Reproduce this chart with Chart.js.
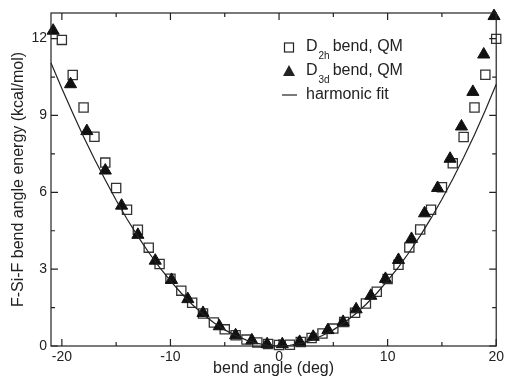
<!DOCTYPE html>
<html>
<head>
<meta charset="utf-8">
<script src="https://cdn.jsdelivr.net/npm/chart.js@4/dist/chart.umd.min.js"></script>
<style>
  html, body { margin: 0; padding: 0; background: #fff; }
</style>
</head>
<body>
<canvas id="bendChart" width="507" height="378"></canvas>
<script>
// D2h bend, QM (open squares)
const d2hAngle = [-20, -19, -18, -17, -16, -15, -14, -13, -12, -11, -10, -9, -8, -7, -6, -5, -4, -3, -2, -1, 0,
                  1, 2, 3, 4, 5, 6, 7, 8, 9, 10, 11, 12, 13, 14, 15, 16, 17, 18, 19, 20];
const d2hEnergy = [11.95, 10.58, 9.31, 8.17, 7.16, 6.17, 5.32, 4.54, 3.84, 3.2, 2.63, 2.16, 1.69, 1.27, 0.92, 0.65, 0.42, 0.25, 0.14, 0.08, 0.04,
                   0.05, 0.16, 0.31, 0.49, 0.68, 0.94, 1.3, 1.66, 2.12, 2.62, 3.17, 3.85, 4.55, 5.32, 6.2, 7.13, 8.16, 9.31, 10.59, 11.99];

// D3d bend, QM (filled triangles)
const d3dAngle = [-20.8, -19.2, -17.7, -16.0, -14.5, -13.0, -11.4, -9.9, -8.4, -7.0, -5.5, -4.0, -2.5, -1.1, 0.3,
                  1.9, 3.15, 4.5, 5.9, 7.1, 8.45, 9.8, 11.0, 12.2, 13.4, 14.6, 15.75, 16.8, 17.85, 18.85, 19.8];
const d3dEnergy = [12.31, 10.22, 8.39, 6.85, 5.48, 4.34, 3.33, 2.58, 1.83, 1.29, 0.77, 0.42, 0.22, 0.07, 0.07,
                   0.16, 0.36, 0.62, 0.94, 1.43, 1.96, 2.62, 3.36, 4.18, 5.18, 6.17, 7.31, 8.57, 9.92, 11.38, 12.88];

// harmonic fit
const fitAngle = [-21, -20, -19, -18, -17, -16, -15, -14, -13, -12, -11, -10, -9, -8, -7, -6, -5, -4, -3, -2, -1, 0,
                  1, 2, 3, 4, 5, 6, 7, 8, 9, 10, 11, 12, 13, 14, 15, 16, 17, 18, 19, 20];
const fitEnergy = [11.05, 10.05, 9.1, 8.17, 7.3, 6.48, 5.69, 4.96, 4.28, 3.65, 3.07, 2.54, 2.06, 1.62, 1.24, 0.91, 0.63, 0.41, 0.23, 0.1, 0.03, 0,
                   0.03, 0.1, 0.23, 0.41, 0.63, 0.91, 1.24, 1.62, 2.06, 2.55, 3.08, 3.67, 4.3, 4.99, 5.73, 6.52, 7.36, 8.25, 9.2, 10.22];

const xTicks = [-20, -10, 0, 10, 20];
const xMinorTicks = [-15, -5, 5, 15];
const yTicks = [0, 3, 6, 9, 12];
const yMinorTicks = [1.5, 4.5, 7.5, 10.5];

const ink = '#222';
const fontFamily = '"Liberation Sans", Arial, sans-serif';

function toPoints(xs, ys) {
    return xs.map((x, i) => ({ x: x, y: ys[i] }));
}

// frame + inward ticks on all four sides
const frameTicks = {
    id: 'frameTicks',
    afterDatasetsDraw(chart) {
        const { ctx, chartArea: a, scales: { x, y } } = chart;
        ctx.save();
        ctx.strokeStyle = ink;
        ctx.lineWidth = 1.2;
        ctx.strokeRect(a.left, a.top, a.right - a.left, a.bottom - a.top);
        ctx.beginPath();
        const xt = (v, len) => {
            const px = x.getPixelForValue(v);
            ctx.moveTo(px, a.bottom); ctx.lineTo(px, a.bottom - len);
            ctx.moveTo(px, a.top); ctx.lineTo(px, a.top + len);
        };
        const yt = (v, len) => {
            const py = y.getPixelForValue(v);
            ctx.moveTo(a.left, py); ctx.lineTo(a.left + len, py);
            ctx.moveTo(a.right, py); ctx.lineTo(a.right - len, py);
        };
        xTicks.forEach(v => xt(v, 7));
        xMinorTicks.forEach(v => xt(v, 4));
        yTicks.forEach(v => yt(v, 7));
        yMinorTicks.forEach(v => yt(v, 4));
        ctx.stroke();
        ctx.restore();
    }
};

// legend with subscripts
const subLegend = {
    id: 'subLegend',
    afterDraw(chart) {
        const ctx = chart.ctx;
        const mx = 289, tx = 306;
        const rows = [
            { y: 47, sub: '2h', kind: 'square' },
            { y: 71, sub: '3d', kind: 'triangle' },
            { y: 95, kind: 'line' }
        ];
        const big = '16px ' + fontFamily, small = '10px ' + fontFamily;
        ctx.save();
        ctx.fillStyle = ink;
        ctx.strokeStyle = ink;
        ctx.textBaseline = 'middle';
        rows.forEach(r => {
            ctx.beginPath();
            if (r.kind === 'square') {
                ctx.lineWidth = 1.2;
                ctx.strokeRect(mx - 4.5, r.y - 4, 9, 9);
            } else if (r.kind === 'triangle') {
                ctx.moveTo(mx, r.y - 6);
                ctx.lineTo(mx + 6, r.y + 5);
                ctx.lineTo(mx - 6, r.y + 5);
                ctx.closePath();
                ctx.fill();
            } else {
                ctx.lineWidth = 1.2;
                ctx.moveTo(282, r.y); ctx.lineTo(297, r.y);
                ctx.stroke();
            }
            ctx.font = big;
            if (r.sub) {
                ctx.fillText('D', tx, r.y);
                let w = ctx.measureText('D').width;
                ctx.font = small;
                ctx.fillText(r.sub, tx + w + 1, r.y + 9);
                w += ctx.measureText(r.sub).width + 4;
                ctx.font = big;
                ctx.fillText('bend, QM', tx + w, r.y);
            } else {
                ctx.fillText('harmonic fit', tx, r.y);
            }
        });
        ctx.restore();
    }
};

const ctx = document.getElementById('bendChart').getContext('2d');
new Chart(ctx, {
    type: 'scatter',
    data: {
        datasets: [
            {
                label: 'harmonic fit',
                type: 'line',
                data: toPoints(fitAngle, fitEnergy),
                borderColor: ink,
                borderWidth: 1.2,
                pointRadius: 0,
                fill: false,
                tension: 0,
                order: 0
            },
            {
                label: 'D3d bend, QM',
                data: toPoints(d3dAngle, d3dEnergy),
                pointStyle: 'triangle',
                pointRadius: 7,
                backgroundColor: '#111',
                borderColor: '#111',
                borderWidth: 1,
                order: 1
            },
            {
                label: 'D2h bend, QM',
                data: toPoints(d2hAngle, d2hEnergy),
                pointStyle: 'rect',
                pointRadius: 6.5,
                backgroundColor: 'rgba(0,0,0,0)',
                borderColor: '#333',
                borderWidth: 1.3,
                order: 2
            }
        ]
    },
    options: {
        responsive: false,
        animation: false,
        devicePixelRatio: 1,
        clip: false,
        layout: { padding: { top: 13, right: 4, left: 0, bottom: 0 } },
        plugins: {
            legend: { display: false },
            tooltip: { enabled: false }
        },
        scales: {
            x: {
                type: 'linear',
                min: -21,
                max: 20,
                afterBuildTicks: s => { s.ticks = xTicks.map(v => ({ value: v })); },
                afterFit: s => { s.height = 32; },
                grid: { display: false, drawTicks: false },
                border: { display: false },
                ticks: {
                    color: ink,
                    padding: 3,
                    font: { family: fontFamily, size: 14 }
                },
                title: {
                    display: true,
                    text: 'bend angle (deg)',
                    color: ink,
                    padding: { top: 0, bottom: 0 },
                    font: { family: fontFamily, size: 16 }
                }
            },
            y: {
                type: 'linear',
                min: 0,
                max: 13,
                afterBuildTicks: s => { s.ticks = yTicks.map(v => ({ value: v })); },
                afterFit: s => { s.width = 51; },
                grid: { display: false, drawTicks: false },
                border: { display: false },
                ticks: {
                    color: ink,
                    padding: 4,
                    font: { family: fontFamily, size: 14 }
                },
                title: {
                    display: true,
                    text: 'F-Si-F bend angle energy (kcal/mol)',
                    color: ink,
                    padding: { top: 9, bottom: 0 },
                    font: { family: fontFamily, size: 16 }
                }
            }
        }
    },
    plugins: [frameTicks, subLegend]
});
</script>
</body>
</html>
